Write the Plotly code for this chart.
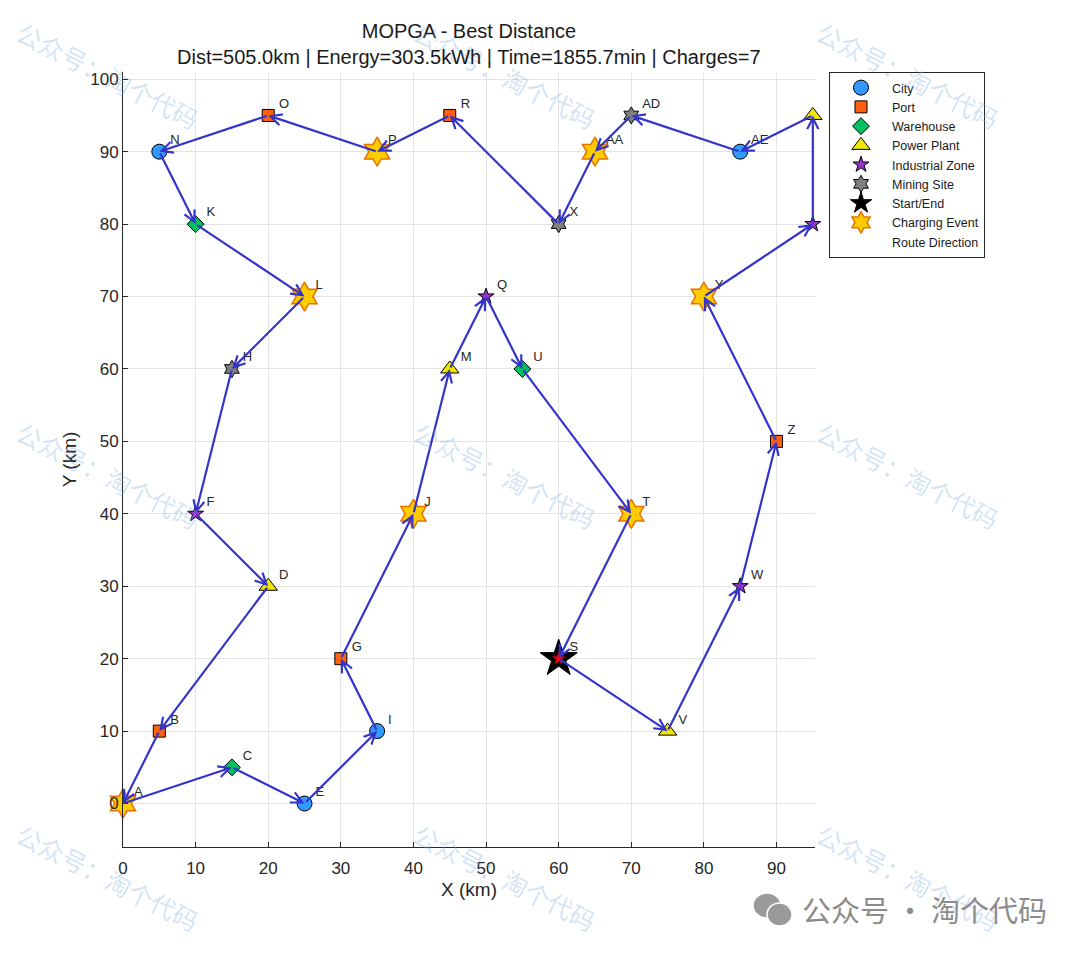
import plotly.graph_objects as go

# nodes of the tour
node_names = ["A", "B", "C", "D", "E", "F", "G", "H", "I", "J", "K", "L", "M", "N", "O",
              "P", "Q", "R", "S", "T", "U", "V", "W", "X", "Y", "Z", "AA", "AB", "AC", "AD", "AE"]
node_x = [0, 5, 15, 20, 25, 10, 30, 15, 35, 40, 10, 25, 45, 5, 20,
          35, 50, 45, 60, 70, 55, 75, 85, 60, 80, 90, 65, 95, 95, 70, 85]
node_y = [0, 10, 5, 30, 0, 40, 20, 60, 10, 40, 80, 70, 60, 90, 95,
          90, 70, 95, 20, 40, 60, 10, 30, 80, 70, 50, 90, 95, 80, 95, 90]
node_type = ["", "Port", "Warehouse", "Power Plant", "City", "Industrial Zone", "Port", "Mining Site",
             "City", "", "Warehouse", "", "Power Plant", "City", "Port", "", "Industrial Zone", "Port",
             "", "", "Warehouse", "Power Plant", "Industrial Zone", "Mining Site", "", "Port", "",
             "Power Plant", "Industrial Zone", "Mining Site", "City"]

route = ["S", "V", "W", "Z", "Y", "AC", "AB", "AE", "AD", "AA", "X", "R", "P", "O", "N", "K",
         "L", "H", "F", "D", "B", "A", "C", "E", "I", "G", "J", "M", "Q", "U", "T", "S"]
charge_nodes = ["A", "J", "L", "P", "T", "Y", "AA"]
start_node = "S"

dist_km = 505.0
energy_kwh = 303.5
time_min = 1855.7

# marker styles per node type
styles = {
    "City": dict(symbol="circle", size=15, color="#3399ff"),
    "Port": dict(symbol="square", size=12, color="#ff6010"),
    "Warehouse": dict(symbol="diamond", size=13, color="#00c060"),
    "Power Plant": dict(symbol="triangle-up", size=16, color="#f2e600"),
    "Industrial Zone": dict(symbol="star", size=12, color="#9933cc"),
    "Mining Site": dict(symbol="hexagram", size=13, color="#808080"),
}

pos = {n: (x, y) for n, x, y in zip(node_names, node_x, node_y)}

# page body has an 8px margin, so the figure sits 8px in from the top-left
W, H = 1064, 937
L, T = 115, 64          # left / top of the plot area (figure px)
PW, PH = 692, 775       # plot area size


def px2paper(px, py):
    # reference page pixels -> paper coords
    return (px - 8 - L) / PW, (T + PH - (py - 8)) / PH


fig = go.Figure()

for t, st in styles.items():
    xs = [x for x, tt in zip(node_x, node_type) if tt == t]
    ys = [y for y, tt in zip(node_y, node_type) if tt == t]
    fig.add_trace(go.Scatter(
        x=xs, y=ys, mode="markers", name=t, cliponaxis=False,
        marker=dict(symbol=st["symbol"], size=st["size"], color=st["color"],
                    line=dict(color="black", width=1))
    ))

sx, sy = pos[start_node]
fig.add_trace(go.Scatter(
    x=[sx], y=[sy], mode="markers", name="Start/End", cliponaxis=False,
    marker=dict(symbol="star", size=28, color="black", line=dict(color="black", width=1))
))
fig.add_trace(go.Scatter(
    x=[sx], y=[sy], mode="markers", showlegend=False, cliponaxis=False,
    marker=dict(symbol="star", size=10, color="red", line=dict(width=0))
))

fig.add_trace(go.Scatter(
    x=[pos[n][0] for n in charge_nodes], y=[pos[n][1] for n in charge_nodes],
    mode="markers", name="Charging Event", cliponaxis=False,
    marker=dict(symbol="hexagram", size=22, color="#ffcc00",
                line=dict(color="#e67300", width=1.5))
))

fig.add_trace(go.Scatter(
    x=[None], y=[None], mode="markers", name="Route Direction",
    marker=dict(color="rgba(0,0,0,0)", size=1)
))

# node labels
fig.add_trace(go.Scatter(
    x=[x + 1.5 for x in node_x], y=[y + 1.5 for y in node_y],
    mode="text", text=node_names, textposition="middle right",
    textfont=dict(size=13, color="#262626", family="Liberation Sans"),
    showlegend=False, cliponaxis=False, hoverinfo="skip"
))

# route arrows
for a, b in zip(route[:-1], route[1:]):
    fig.add_annotation(
        x=pos[b][0], y=pos[b][1], ax=pos[a][0], ay=pos[a][1],
        xref="x", yref="y", axref="x", ayref="y",
        text="", showarrow=True, arrowhead=5, arrowsize=1, arrowwidth=2.2,
        arrowcolor="#3434cc", standoff=0
    )

# watermarks
wm_x = [108, 505, 908]
wm_y = [75, 475, 877]
for py in wm_y:
    for px in wm_x:
        ux, uy = px2paper(px, py)
        fig.add_annotation(
            x=ux, y=uy, xref="paper", yref="paper", xanchor="center", yanchor="middle",
            text="公众号：淘个代码", showarrow=False, textangle=27,
            font=dict(size=25, color="rgba(120,170,225,0.33)", family="Noto Sans CJK SC")
        )
ux, uy = px2paper(800, 909)
fig.add_annotation(
    x=ux, y=uy, xref="paper", yref="paper", xanchor="left", yanchor="middle",
    text="公众号 · 淘个代码", showarrow=False,
    font=dict(size=29, color="#8c8c8c", family="Noto Sans CJK SC")
)
for (x0, y0, x1, y1) in [(753, 893, 781, 918), (767, 903, 792, 926)]:
    a0, b0 = px2paper(x0, y1)
    a1, b1 = px2paper(x1, y0)
    fig.add_shape(type="circle", xref="paper", yref="paper", x0=a0, x1=a1, y0=b0, y1=b1,
                  fillcolor="#9a9a9a", line=dict(color="white", width=1.5))

title1 = "MOPGA - Best Distance"
title2 = (f"Dist={dist_km:.1f}km | Energy={energy_kwh:.1f}kWh | Time={time_min:.1f}min | "
          f"Charges={len(charge_nodes)}")
ux, uy = px2paper(470, 57)
fig.add_annotation(x=0.5, y=uy, xref="paper", yref="paper", xanchor="center", yanchor="middle",
                   text=title2, showarrow=False, font=dict(size=20, color="#1a1a1a"))

axis_common = dict(
    showgrid=True, gridcolor="#e3e3e3", gridwidth=1, zeroline=False,
    showline=True, linecolor="#262626", linewidth=1,
    ticks="inside", ticklen=5, tickcolor="#262626",
    tickfont=dict(size=17, color="#262626"), dtick=10,
)

fig.update_layout(
    width=W, height=H,
    margin=dict(l=L, r=W - L - PW, t=T, b=H - T - PH),
    paper_bgcolor="white", plot_bgcolor="white",
    font=dict(family="Liberation Sans", color="#262626"),
    title=dict(text=title1, x=0.5, xref="paper", xanchor="center",
               y=1 - 23 / H, yref="container", yanchor="middle",
               font=dict(size=20, color="#1a1a1a")),
    xaxis=dict(range=[0, 95.3], title=dict(text="X (km)", font=dict(size=19), standoff=5),
               tick0=0, ticklabelstandoff=6, **axis_common),
    yaxis=dict(range=[-6, 101], title=dict(text="Y (km)", font=dict(size=19), standoff=8),
               tick0=0, **axis_common),
    legend=dict(x=(829 - 8 - L) / PW, y=1.0, xanchor="left", yanchor="top",
                bordercolor="#262626", borderwidth=1, bgcolor="white",
                font=dict(size=12.5, color="#1a1a1a"), itemwidth=52,
                tracegroupgap=0),
    showlegend=True,
)

fig.write_html("out.html")
